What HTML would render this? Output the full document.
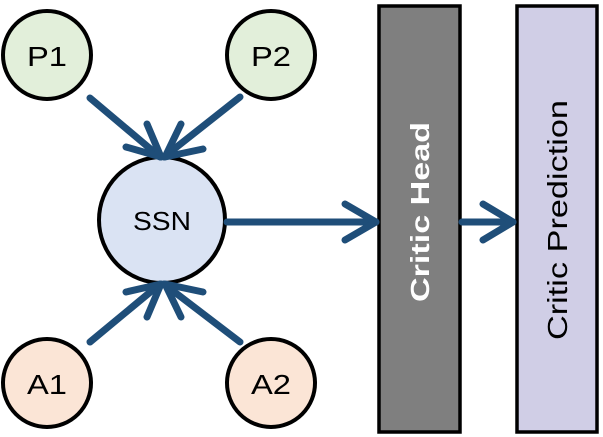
<!DOCTYPE html>
<html><head><style>body{margin:0;background:#fff}</style></head><body>
<svg width="603" height="437" xmlns="http://www.w3.org/2000/svg" style="display:block">
<g stroke="#000" stroke-width="4">
<circle cx="47" cy="55" r="44" fill="#e2efda"/>
<circle cx="271" cy="55" r="44" fill="#e2efda"/>
<circle cx="47" cy="383" r="44" fill="#fbe5d6"/>
<circle cx="271" cy="383" r="44" fill="#fbe5d6"/>
<circle cx="162" cy="220" r="63" fill="#dae3f3"/>
<rect x="379" y="6" width="81" height="426" fill="#7f7f7f" stroke-width="3.5"/>
<rect x="517" y="6" width="80" height="426" fill="#d0cee6" stroke-width="3.5"/>
</g>
<g stroke="#1f4e79" stroke-width="7" fill="none" stroke-linecap="round" stroke-linejoin="round">
<line x1="90" y1="98" x2="160" y2="157"/>
<polyline points="147,124 161,157 126,147"/>
<line x1="240" y1="97" x2="164" y2="157"/>
<polyline points="181,124 165,157 203,149"/>
<line x1="90" y1="342" x2="160" y2="284"/>
<polyline points="126,292 161,284 147,317"/>
<line x1="240" y1="342" x2="164" y2="284"/>
<polyline points="203,292 165,284 181,317"/>
<line x1="227" y1="222" x2="376" y2="222"/>
<polyline points="345,204 376,222 345,240"/>
<line x1="462" y1="222" x2="513" y2="222"/>
<polyline points="483,204 513,222 483,240"/>
</g>
<g fill="#000" text-anchor="middle" style="font-family:'Liberation Sans',sans-serif">
<text x="47" y="66" style="font-size:28px" textLength="40" lengthAdjust="spacingAndGlyphs">P1</text>
<text x="271" y="66" style="font-size:28px" textLength="40" lengthAdjust="spacingAndGlyphs">P2</text>
<text x="47" y="394" style="font-size:28px" textLength="40" lengthAdjust="spacingAndGlyphs">A1</text>
<text x="271" y="394" style="font-size:28px" textLength="40" lengthAdjust="spacingAndGlyphs">A2</text>
<text x="162" y="230" style="font-size:26px" textLength="58" lengthAdjust="spacingAndGlyphs">SSN</text>
<text transform="translate(429,212) rotate(-90)" fill="#fff" font-weight="bold" style="font-size:26px" textLength="180" lengthAdjust="spacingAndGlyphs">Critic Head</text>
<text transform="translate(567,220) rotate(-90)" style="font-size:28px" textLength="240" lengthAdjust="spacingAndGlyphs">Critic Prediction</text>
</g>
</svg>
</body></html>
